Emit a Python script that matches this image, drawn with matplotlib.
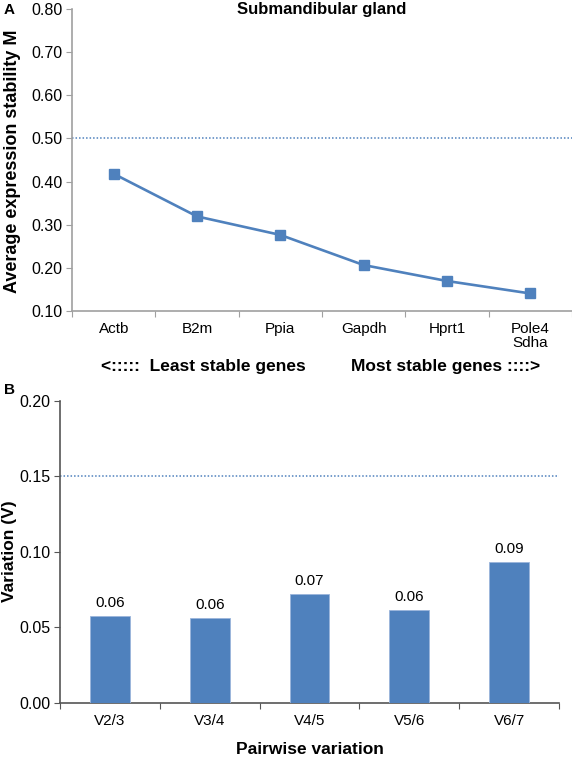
import matplotlib
matplotlib.use("Agg")
import matplotlib.pyplot as plt
from matplotlib.ticker import FixedLocator, FormatStrFormatter

plt.rcParams['font.family'] = ['Liberation Sans', 'DejaVu Sans']

# panel A data
genes = ["Actb", "B2m", "Ppia", "Gapdh", "Hprt1", "Pole4\nSdha"]
stability = [0.418, 0.319, 0.276, 0.206, 0.169, 0.140]
m_cutoff = 0.50

# panel B data
pairs = ["V2/3", "V3/4", "V4/5", "V5/6", "V6/7"]
variation = [0.0574, 0.0562, 0.0717, 0.0614, 0.0934]
bar_labels = ["0.06", "0.06", "0.07", "0.06", "0.09"]
v_cutoff = 0.15

blue = "#4f81bd"
W, H = 572, 758

fig = plt.figure(figsize=(W / 100, H / 100), dpi=100)

def fx(px):
    return px / W

def fy(py):
    return 1 - py / H

# ---- panel A ----
axA = fig.add_axes([fx(72), fy(310.7), fx(572) - fx(72), fy(9.3) - fy(310.7)])
xa = list(range(len(genes)))
axA.plot(xa, stability, color=blue, lw=1.9, marker="s", ms=6.5,
         markeredgecolor=blue, markerfacecolor=blue, zorder=3)
axA.axhline(m_cutoff, color=blue, lw=1.1, ls=(0, (1, 1.3)))
axA.set_xlim(-0.5, len(genes) - 0.5)
axA.set_ylim(0.10, 0.80)
axA.set_yticks([0.1 * i for i in range(1, 9)])
axA.yaxis.set_major_formatter(FormatStrFormatter("%.2f"))
axA.xaxis.set_major_locator(FixedLocator([i - 0.5 for i in range(len(genes) + 1)]))
axA.xaxis.set_minor_locator(FixedLocator(xa))
axA.set_xticklabels([], minor=False)
axA.set_xticklabels(genes, minor=True, fontsize=11, linespacing=1.05)
axA.tick_params(axis="x", which="minor", length=0, pad=8)
axA.tick_params(axis="x", which="major", length=4, color="#a0a0a0")
axA.tick_params(axis="y", length=4, color="#a0a0a0", labelsize=11.5, pad=3)
for s in ["top", "right"]:
    axA.spines[s].set_visible(False)
for s in ["left", "bottom"]:
    axA.spines[s].set_color("#a0a0a0")
    axA.spines[s].set_linewidth(1.2)
axA.text(0.5, 1.0, "Submandibular gland", transform=axA.transAxes,
         ha="center", va="center", fontsize=12, fontweight="bold")

fig.text(fx(13), fy(161), "Average expression stability M", rotation=90,
         ha="center", va="center", fontsize=13, fontweight="bold")
fig.text(fx(4), fy(10), "A", ha="left", va="center", fontsize=11, fontweight="bold")
fig.text(fx(101), fy(366), "<:::::  Least stable genes", ha="left", va="center",
         fontsize=12.5, fontweight="bold")
fig.text(fx(540), fy(366), "Most stable genes ::::>", ha="right", va="center",
         fontsize=12.5, fontweight="bold")

# ---- panel B ----
axB = fig.add_axes([fx(60), fy(702.7), fx(559) - fx(60), fy(400.7) - fy(702.7)])
xb = list(range(len(pairs)))
bars = axB.bar(xb, variation, width=0.4, color=blue, edgecolor="#9bb5db",
               linewidth=0.6, zorder=3)
for b, lab in zip(bars, bar_labels):
    axB.text(b.get_x() + b.get_width() / 2, b.get_height() + 0.004, lab,
             ha="center", va="bottom", fontsize=11)
axB.axhline(v_cutoff, color=blue, lw=1.1, ls=(0, (1, 1.3)))
axB.set_xlim(-0.5, len(pairs) - 0.5)
axB.set_ylim(0, 0.20)
axB.set_yticks([0, 0.05, 0.10, 0.15, 0.20])
axB.yaxis.set_major_formatter(FormatStrFormatter("%.2f"))
axB.xaxis.set_major_locator(FixedLocator([i - 0.5 for i in range(len(pairs) + 1)]))
axB.xaxis.set_minor_locator(FixedLocator(xb))
axB.set_xticklabels([], minor=False)
axB.set_xticklabels(pairs, minor=True, fontsize=11)
axB.tick_params(axis="x", which="minor", length=0, pad=8)
axB.tick_params(axis="x", which="major", length=4, color="#555555")
axB.tick_params(axis="y", length=4, color="#555555", labelsize=11.5, pad=3)
for s in ["top", "right"]:
    axB.spines[s].set_visible(False)
for s in ["left", "bottom"]:
    axB.spines[s].set_color("#555555")
    axB.spines[s].set_linewidth(1.2)

fig.text(fx(10), fy(551), "Variation (V)", rotation=90, ha="center", va="center",
         fontsize=12.5, fontweight="bold")
fig.text(fx(310), fy(749), "Pairwise variation", ha="center", va="center",
         fontsize=12.5, fontweight="bold")
fig.text(fx(4), fy(390), "B", ha="left", va="center", fontsize=11, fontweight="bold")

fig.savefig("out.png", dpi=100)
